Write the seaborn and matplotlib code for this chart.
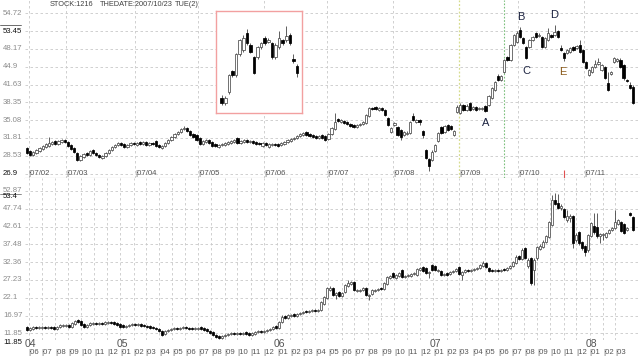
import numpy as np
import pandas as pd
import matplotlib
matplotlib.use("Agg")
import matplotlib.pyplot as plt
import matplotlib.transforms as mtransforms
import seaborn as sns

# ---------------- data ----------------
header_texts = ["STOCK:1216", "THEDATE:2007/10/23", "TUE(2)"]

# daily panel (2007), month labels and trading-day index where each month starts
day_month_labels = ["07/02", "07/03", "07/04", "07/05", "07/06",
                    "07/07", "07/08", "07/09", "07/10", "07/11"]
day_month_start = [1, 13, 35, 55, 76, 96, 117, 138, 157, 178]
day_grid_values = [54.72, 51.45, 48.17, 44.90, 41.63, 38.35, 35.08, 31.81, 28.53, 25.26]
day_grid_labels = ["54.72", "53.45", "48.17", "44.9", "41.63", "38.35", "35.08",
                   "31.81", "28.53", "26.9"]

day_open = [29.97, 29.42, 28.69, 29.05, 29.42, 29.79, 30.16, 30.34, 30.71, 31.26,
            30.71, 31.07, 31.44, 31.07, 30.52, 29.97, 29.05, 27.77, 28.32, 29.05,
            28.69, 29.60, 29.05, 28.69, 28.14, 28.50, 29.05, 29.60, 30.16, 30.52,
            30.89, 30.71, 30.16, 30.52, 30.89, 30.52, 31.07, 30.71, 31.07, 30.52,
            30.89, 31.26, 30.52, 29.97, 30.34, 30.89, 31.44, 31.99, 32.54, 32.91,
            33.46, 33.65, 33.10, 32.54, 32.36, 31.81, 30.71, 31.07, 31.44, 31.07,
            30.71, 30.16, 30.52, 30.52, 30.71, 30.89, 31.07, 31.81, 30.89, 31.07,
            31.44, 31.07, 31.26, 31.07, 30.89, 30.34, 30.89, 30.16, 30.52, 30.71,
            30.71, 30.52, 30.71, 31.07, 31.26, 31.63, 31.81, 32.18, 32.36, 32.91,
            32.54, 32.36, 32.18, 31.81, 32.36, 32.18, 31.63, 32.54, 33.46, 35.30,
            34.75, 34.93, 34.75, 34.38, 34.20, 33.83, 34.20, 34.38, 34.56, 35.85,
            37.32, 37.50, 36.95, 37.32, 36.95, 35.48, 32.91, 34.20, 33.83, 33.28,
            32.36, 32.54, 32.73, 35.85, 34.75, 35.12, 33.10, 29.60, 27.95, 27.77,
            29.42, 31.26, 33.83, 32.91, 34.20, 34.01, 32.36, 36.59, 36.40, 37.87,
            36.95, 38.24, 37.14, 37.50, 37.14, 37.14, 37.69, 37.87, 39.16, 40.63,
            43.20, 42.46, 43.93, 46.69, 46.14, 48.89, 49.44, 51.65, 50.18, 48.53,
            48.53, 49.81, 51.10, 50.55, 50.36, 48.53, 49.81, 50.73, 50.73, 51.47,
            48.34, 47.42, 47.42, 47.61, 48.53, 48.34, 48.89, 47.97, 45.77, 43.38,
            43.93, 44.85, 45.40, 44.30, 44.85, 41.91, 43.57, 45.77, 45.95, 46.14,
            45.22, 42.46, 41.54, 41.18]
day_close = [29.05, 28.69, 29.24, 29.60, 29.97, 30.34, 30.71, 30.89, 31.07, 30.71,
             31.26, 31.44, 31.07, 30.34, 29.79, 29.24, 27.77, 28.50, 28.87, 28.69,
             29.42, 29.05, 28.69, 28.32, 28.50, 29.05, 29.60, 30.16, 30.52, 30.89,
             30.52, 30.16, 30.52, 30.89, 30.71, 30.89, 30.71, 31.07, 30.52, 30.89,
             30.71, 30.34, 30.16, 30.34, 30.89, 31.44, 31.99, 32.54, 32.91, 33.46,
             33.65, 33.10, 32.36, 31.99, 31.44, 30.71, 31.26, 31.44, 30.89, 30.34,
             30.34, 30.52, 30.71, 30.89, 31.07, 31.26, 31.44, 30.89, 31.26, 31.44,
             31.07, 31.26, 30.89, 30.71, 30.71, 30.89, 30.52, 30.71, 30.71, 30.52,
             30.34, 30.89, 31.07, 31.44, 31.63, 31.81, 32.18, 32.54, 32.73, 32.36,
             32.18, 31.99, 31.81, 32.18, 31.81, 31.44, 32.54, 33.65, 34.75, 34.93,
             35.12, 34.56, 34.38, 34.01, 33.83, 34.20, 34.38, 34.75, 36.03, 37.32,
             37.14, 37.14, 37.32, 36.95, 36.03, 34.20, 33.65, 34.56, 32.36, 31.99,
             32.91, 32.73, 34.75, 35.12, 35.12, 34.75, 32.36, 28.14, 26.67, 29.24,
             30.52, 32.73, 32.73, 34.01, 33.28, 33.46, 33.10, 37.50, 37.87, 36.95,
             37.69, 36.95, 37.50, 36.95, 37.32, 37.32, 36.77, 39.52, 40.99, 42.10,
             42.46, 43.20, 46.14, 46.14, 48.89, 50.73, 51.10, 50.36, 49.26, 46.51,
             49.81, 50.36, 50.36, 50.73, 48.53, 50.18, 51.10, 50.36, 51.28, 50.36,
             47.97, 46.51, 47.97, 48.34, 47.97, 48.71, 47.61, 45.77, 44.67, 44.30,
             44.85, 45.40, 45.77, 45.22, 42.83, 40.63, 43.93, 46.51, 46.32, 44.85,
             42.83, 42.28, 40.99, 38.24]
day_high = [30.16, 29.60, 29.42, 29.79, 30.16, 30.52, 30.89, 31.99, 31.26, 31.44,
            31.44, 31.63, 31.63, 31.26, 30.71, 30.16, 29.24, 28.69, 29.05, 29.24,
            29.60, 29.79, 29.24, 28.87, 28.69, 29.24, 29.79, 30.34, 30.71, 31.07,
            31.07, 30.89, 30.71, 31.07, 31.07, 31.07, 31.26, 31.26, 31.26, 31.07,
            31.07, 31.44, 30.71, 30.52, 31.07, 31.63, 32.18, 32.73, 33.10, 33.65,
            34.01, 33.83, 33.28, 32.73, 32.54, 31.99, 31.44, 31.63, 31.63, 31.26,
            30.89, 30.71, 30.89, 31.07, 31.26, 31.44, 31.63, 31.99, 31.44, 31.63,
            31.63, 31.44, 31.44, 31.26, 31.07, 31.07, 31.07, 30.89, 30.89, 30.89,
            30.89, 31.07, 31.26, 31.63, 31.81, 31.99, 32.36, 32.73, 32.91, 33.10,
            32.73, 32.54, 32.36, 32.36, 32.54, 32.36, 32.73, 33.83, 36.40, 35.48,
            35.30, 35.12, 34.93, 34.56, 34.38, 34.38, 34.56, 34.93, 36.22, 37.50,
            37.50, 37.69, 37.50, 37.50, 37.14, 35.67, 33.83, 34.75, 34.01, 33.46,
            33.10, 33.10, 34.93, 36.40, 35.30, 35.30, 33.28, 29.79, 28.14, 29.60,
            30.71, 32.91, 34.01, 34.20, 34.38, 34.20, 33.28, 37.87, 38.24, 38.05,
            38.05, 38.42, 37.69, 37.69, 37.50, 37.50, 37.87, 39.71, 41.18, 42.28,
            43.57, 43.38, 46.32, 46.87, 49.08, 50.91, 51.47, 52.20, 50.36, 48.71,
            49.99, 50.55, 51.28, 51.10, 50.55, 50.36, 52.02, 50.91, 52.57, 51.65,
            48.89, 47.61, 48.16, 48.53, 48.71, 48.89, 49.81, 48.16, 45.95, 44.49,
            45.04, 46.14, 46.51, 45.40, 45.04, 43.93, 44.12, 46.69, 46.51, 46.51,
            45.40, 42.65, 42.10, 41.54]
day_low = [28.87, 28.50, 28.50, 28.87, 29.24, 29.60, 29.97, 30.16, 30.52, 30.52,
           30.52, 30.89, 30.89, 30.16, 29.60, 29.05, 27.59, 27.59, 28.14, 28.50,
           28.50, 28.87, 28.50, 28.14, 27.95, 28.32, 28.87, 29.42, 29.97, 30.34,
           30.34, 29.97, 29.97, 30.34, 30.52, 30.34, 30.52, 30.52, 30.34, 30.34,
           30.52, 30.16, 29.97, 29.79, 30.16, 30.71, 31.26, 31.81, 32.36, 32.73,
           33.28, 32.91, 32.18, 31.81, 31.26, 30.52, 30.52, 30.89, 30.71, 30.16,
           30.16, 29.97, 30.34, 30.34, 30.52, 30.71, 30.89, 30.71, 30.71, 30.89,
           30.89, 30.89, 30.71, 30.52, 30.52, 30.16, 30.34, 29.97, 30.34, 30.34,
           30.16, 30.34, 30.52, 30.89, 31.07, 31.44, 31.63, 31.99, 32.18, 32.18,
           31.99, 31.81, 31.63, 31.63, 31.63, 31.26, 31.44, 32.36, 33.28, 34.75,
           34.56, 34.38, 34.20, 33.83, 33.65, 33.65, 34.01, 34.20, 34.38, 35.67,
           36.95, 36.95, 36.77, 36.77, 35.85, 34.01, 32.73, 34.01, 32.18, 31.44,
           32.18, 32.36, 32.54, 34.93, 34.56, 34.20, 31.81, 27.95, 25.75, 27.59,
           29.24, 31.07, 32.54, 32.73, 33.10, 33.28, 32.18, 36.40, 36.22, 36.77,
           36.77, 36.77, 36.95, 36.77, 36.95, 36.95, 36.59, 37.69, 38.97, 40.44,
           42.28, 42.28, 43.75, 45.95, 45.95, 48.71, 49.26, 50.18, 49.08, 46.32,
           48.34, 49.63, 50.18, 50.36, 48.34, 48.34, 49.63, 50.18, 50.55, 50.18,
           47.79, 45.95, 47.24, 47.42, 47.79, 48.16, 47.42, 45.59, 44.49, 43.20,
           43.75, 44.67, 45.22, 44.12, 42.65, 40.44, 43.38, 45.59, 45.77, 44.67,
           42.46, 42.10, 40.81, 38.05]

# annotations on the daily panel: (label, trading-day index, price)
wave_labels = ["A", "B", "C", "D", "E"]
wave_index = [146.2, 157.4, 159.2, 167.8, 170.7]
wave_price = [34.56, 54.04, 44.12, 54.40, 43.93]
cursor_day = 171
marker_day = 152
inset_first, inset_last = 150, 172

# weekly panel (2004/06 - 2008/03)
week_first_date = "2004-05-28"
week_grid_values = [52.87, 47.74, 42.61, 37.48, 32.36, 27.23, 22.10, 16.97, 11.85]
week_grid_labels = ["52.87", "47.74", "42.61", "37.48", "32.36", "27.23", "22.1",
                    "16.97", "11.85"]
week_open = [13.67, 12.80, 13.09, 13.67, 13.38, 13.38, 13.67, 13.38, 13.67, 13.67,
             13.09, 13.67, 13.96, 13.96, 14.24, 13.67, 14.53, 15.69, 15.40, 14.53,
             13.67, 14.24, 14.53, 14.82, 14.53, 14.82, 14.53, 14.82, 15.11, 15.11,
             14.82, 14.53, 14.24, 13.67, 13.96, 14.24, 14.53, 14.24, 14.53, 14.24,
             13.96, 13.96, 13.67, 13.38, 13.09, 12.51, 11.65, 12.51, 12.80, 13.09,
             13.38, 13.09, 13.38, 13.67, 13.38, 13.38, 13.09, 13.09, 13.67, 13.38,
             13.09, 12.51, 12.23, 11.36, 11.07, 10.50, 11.07, 11.36, 11.65, 11.94,
             11.65, 11.94, 11.65, 12.23, 11.94, 11.36, 11.65, 12.23, 12.51, 12.23,
             12.51, 12.80, 13.09, 13.96, 13.38, 15.11, 16.84, 16.26, 16.84, 17.42,
             16.84, 17.42, 17.71, 18.28, 17.99, 18.28, 18.57, 18.28, 18.57, 20.30,
             22.03, 24.33, 24.91, 22.89, 23.76, 22.60, 23.76, 25.49, 26.06, 26.64,
             24.04, 24.04, 24.33, 24.91, 22.60, 23.18, 24.04, 24.33, 24.91, 24.62,
             26.06, 27.79, 29.23, 27.79, 28.37, 30.10, 28.08, 28.37, 28.37, 28.94,
             28.66, 30.10, 30.96, 30.67, 29.23, 31.54, 31.25, 29.81, 29.81, 28.66,
             29.23, 28.94, 29.52, 29.81, 30.96, 28.66, 29.52, 30.10, 29.81, 30.10,
             30.38, 30.67, 31.25, 32.11, 30.67, 30.10, 29.81, 30.10, 29.81, 30.38,
             30.10, 30.67, 31.25, 32.11, 34.13, 33.27, 36.44, 31.25, 33.56, 30.10,
             33.56, 36.15, 36.73, 38.17, 39.61, 43.07, 50.27, 49.40, 47.97, 47.68,
             44.51, 45.08, 45.66, 38.74, 41.05, 38.17, 37.01, 35.86, 39.90, 42.78,
             42.49, 39.90, 40.18, 39.61, 40.76, 41.62, 42.20, 43.35, 43.93, 43.35,
             41.62, 46.52, 45.37]
week_close = [12.80, 13.38, 13.67, 13.38, 13.67, 13.67, 13.38, 13.67, 13.38, 13.09,
              13.67, 14.24, 14.24, 14.24, 13.67, 14.82, 15.40, 15.11, 14.24, 13.67,
              14.24, 14.82, 14.82, 14.53, 14.82, 14.53, 15.11, 15.11, 14.82, 14.53,
              14.24, 13.67, 13.67, 13.96, 14.24, 14.53, 14.24, 14.53, 13.96, 13.96,
              13.67, 13.38, 13.38, 13.09, 12.51, 11.36, 12.51, 12.80, 13.09, 13.38,
              13.09, 13.38, 13.67, 13.38, 13.09, 13.09, 13.38, 13.38, 13.09, 12.80,
              12.51, 11.94, 11.36, 10.78, 10.50, 11.07, 11.36, 11.65, 11.94, 11.65,
              11.94, 11.65, 11.94, 11.65, 11.36, 11.94, 12.23, 12.51, 12.23, 12.51,
              12.80, 13.09, 13.67, 13.38, 15.11, 16.55, 16.26, 17.13, 17.13, 16.84,
              17.42, 17.71, 17.99, 17.99, 18.28, 18.57, 18.28, 18.57, 20.87, 22.31,
              24.91, 24.91, 22.89, 23.47, 22.60, 23.47, 25.77, 26.35, 26.64, 24.33,
              24.33, 24.33, 24.91, 22.89, 22.89, 24.33, 24.33, 24.62, 24.62, 26.35,
              28.08, 28.37, 28.08, 28.66, 29.23, 28.08, 28.37, 28.66, 28.94, 29.23,
              30.38, 30.67, 29.81, 29.23, 29.52, 30.10, 30.10, 30.10, 28.66, 28.94,
              28.66, 29.52, 29.81, 30.38, 28.94, 29.52, 30.10, 29.81, 30.10, 30.38,
              30.67, 31.54, 32.11, 30.96, 29.81, 29.81, 30.10, 29.81, 30.10, 30.10,
              30.67, 31.25, 32.40, 33.84, 33.27, 35.86, 33.56, 32.98, 26.35, 32.98,
              36.73, 37.01, 38.17, 39.90, 43.93, 50.27, 49.12, 47.97, 48.54, 45.37,
              45.66, 45.66, 37.88, 40.18, 37.88, 36.44, 35.29, 40.18, 43.64, 41.05,
              39.90, 40.47, 40.47, 40.76, 41.62, 42.20, 43.93, 44.51, 41.34, 40.76,
              42.20, 45.95, 41.62]
week_high = [13.96, 13.67, 13.96, 13.96, 13.96, 13.96, 13.96, 13.96, 13.96, 13.96,
             13.96, 14.53, 14.53, 14.53, 14.53, 15.11, 15.69, 15.98, 15.69, 14.82,
             14.53, 15.11, 15.11, 15.11, 15.11, 15.11, 15.40, 15.40, 15.40, 15.40,
             15.11, 14.82, 14.53, 14.24, 14.53, 14.82, 14.82, 14.82, 14.82, 14.53,
             14.24, 14.24, 13.96, 13.67, 13.38, 12.80, 12.80, 13.09, 13.38, 13.67,
             13.67, 13.67, 13.96, 13.96, 13.67, 13.67, 13.67, 13.67, 13.96, 13.67,
             13.38, 12.80, 12.51, 11.65, 11.36, 11.36, 11.65, 11.94, 12.23, 12.23,
             12.23, 12.23, 12.23, 12.51, 12.23, 12.23, 12.51, 12.80, 12.80, 12.80,
             13.09, 13.38, 13.96, 14.24, 15.40, 17.13, 17.13, 17.42, 17.42, 17.71,
             17.71, 17.99, 18.28, 18.57, 18.57, 18.86, 18.86, 18.86, 21.16, 22.60,
             25.20, 25.49, 25.20, 23.76, 24.04, 23.76, 26.06, 27.21, 26.93, 26.93,
             24.62, 24.62, 25.20, 25.20, 23.18, 24.62, 24.62, 24.91, 25.20, 26.64,
             28.37, 28.66, 29.52, 28.94, 29.52, 30.38, 28.66, 28.94, 29.23, 29.52,
             30.67, 30.96, 31.25, 30.96, 29.81, 31.83, 31.54, 30.38, 30.10, 29.23,
             29.52, 29.81, 30.10, 30.67, 31.25, 29.81, 30.38, 30.38, 30.38, 30.67,
             30.96, 31.83, 32.69, 32.40, 30.96, 30.38, 30.38, 30.38, 30.38, 30.67,
             30.96, 31.54, 32.69, 34.42, 34.42, 36.44, 36.73, 33.56, 33.84, 33.56,
             37.01, 37.59, 38.74, 40.18, 44.22, 51.71, 52.29, 52.00, 49.12, 47.97,
             47.39, 46.23, 45.95, 40.76, 41.34, 38.46, 37.30, 40.47, 43.93, 46.52,
             46.52, 40.76, 40.76, 41.05, 41.91, 42.49, 47.39, 44.80, 44.22, 43.64,
             42.49, 46.81, 45.66]
week_low = [12.51, 12.51, 12.80, 13.09, 13.09, 13.09, 13.09, 13.09, 13.09, 12.80,
            12.80, 13.38, 13.67, 13.67, 13.38, 13.38, 14.24, 14.82, 13.96, 13.38,
            13.38, 13.96, 14.24, 14.24, 14.24, 14.24, 14.24, 14.53, 14.53, 14.24,
            13.96, 13.38, 13.38, 13.38, 13.67, 13.96, 13.96, 13.96, 13.67, 13.67,
            13.38, 13.09, 13.09, 12.80, 12.23, 11.07, 11.36, 12.23, 12.51, 12.80,
            12.80, 12.80, 13.09, 13.09, 12.80, 12.80, 12.80, 12.80, 12.80, 12.51,
            12.23, 11.65, 11.07, 10.50, 10.21, 10.21, 10.78, 11.07, 11.36, 11.36,
            11.36, 11.36, 11.36, 11.36, 11.07, 11.07, 11.36, 11.94, 11.94, 11.94,
            12.23, 12.51, 12.80, 13.09, 13.09, 14.82, 15.98, 15.98, 16.55, 16.55,
            16.55, 17.13, 17.42, 17.71, 17.71, 17.99, 17.99, 17.99, 18.28, 20.01,
            21.74, 24.04, 22.60, 21.74, 22.31, 22.31, 23.47, 25.20, 25.77, 24.04,
            23.76, 23.76, 24.04, 22.60, 21.45, 22.89, 23.76, 24.04, 24.33, 24.33,
            25.77, 27.50, 27.79, 27.50, 28.08, 27.79, 27.79, 28.08, 28.08, 28.66,
            28.37, 29.81, 29.52, 28.94, 27.79, 29.81, 29.81, 29.52, 28.37, 28.37,
            28.37, 28.66, 29.23, 29.52, 28.66, 27.21, 29.23, 29.52, 29.52, 29.81,
            30.10, 30.38, 30.96, 30.67, 29.52, 29.52, 29.52, 29.52, 29.52, 29.81,
            29.81, 30.38, 30.96, 31.83, 32.98, 32.98, 33.27, 30.67, 25.77, 25.77,
            32.98, 35.86, 36.44, 37.88, 39.32, 42.78, 48.83, 47.68, 47.39, 45.08,
            43.93, 43.93, 36.44, 38.17, 37.30, 35.86, 34.13, 35.29, 39.61, 40.47,
            39.32, 37.88, 38.74, 39.32, 40.47, 41.34, 41.91, 43.07, 41.05, 40.47,
            41.34, 45.66, 41.34]
week_cursor_date = "2007-10-23"

# ---------------- style ----------------
sns.set_theme(style="white")
plt.rcParams["font.family"] = ["Liberation Sans", "DejaVu Sans"]
plt.rcParams["axes.linewidth"] = 0.8

W, H = 640, 356
fig = plt.figure(figsize=(W / 100, H / 100), dpi=100)
fig.patch.set_facecolor("white")


def fx(px):
    return px / W


def fy(py):
    return 1 - py / H


GRID = dict(color="#c9c9c9", lw=0.6, ls=(0, (3, 3)), zorder=0)
LBL = "#8c8c8c"
FS = 5.6


def draw_candles(ax, o, h, l, c, width, lw):
    df = pd.DataFrame({"o": o, "h": h, "l": l, "c": c})
    df["x"] = np.arange(len(df))
    up = df["c"] >= df["o"]
    ax.vlines(df["x"], df["l"], df["h"], colors="#333333", lw=lw, zorder=2)
    ax.bar(df["x"][up], (df["c"] - df["o"])[up], bottom=df["o"][up], width=width,
           facecolor="white", edgecolor="#4a4a4a", lw=lw, zorder=3)
    ax.bar(df["x"][~up], (df["o"] - df["c"])[~up], bottom=df["c"][~up], width=width,
           facecolor="black", edgecolor="black", lw=lw, zorder=3)


def clean(ax):
    ax.set_xticks([])
    ax.set_yticks([])
    for s in ax.spines.values():
        s.set_visible(False)
    ax.set_facecolor("white")


# ---------------- daily panel ----------------
ax1 = fig.add_axes([fx(25), fy(178), fx(615), 178 / H])
clean(ax1)
ax1.set_xlim(-0.64, -0.64 + 615 / 3.14)
ax1.set_ylim(24.46, 57.16)
for v in day_grid_values:
    ax1.axhline(v, **GRID)
for i in day_month_start:
    if i == 138:
        ax1.axvline(i - 0.5, color="#d6dc8c", lw=0.9, ls=(0, (1.5, 1.5)), zorder=0)
    else:
        ax1.axvline(i - 0.5, **GRID)
ax1.axvline(marker_day, color="#7cbf7c", lw=0.8, ls=(0, (1.5, 1.5)), zorder=0)
draw_candles(ax1, day_open, day_high, day_low, day_close, 0.72, 0.55)
ax1.spines["bottom"].set_visible(True)
ax1.spines["bottom"].set_color("#9a9a9a")

tx1 = mtransforms.blended_transform_factory(ax1.transData, ax1.transAxes)
for i, lab in zip(day_month_start, day_month_labels):
    ax1.text(i - 0.5, 0.028, "|" + lab, transform=tx1, fontsize=FS, color="#555555",
             ha="left", va="center")
ax1.vlines(cursor_day, 0, 0.045, transform=tx1, color="#e05050", lw=0.8)

ty1 = mtransforms.blended_transform_factory(fig.transFigure, ax1.transData)
for v, lab in zip(day_grid_values, day_grid_labels):
    col = "#111111" if lab in ("53.45", "26.9") else LBL
    ax1.text(fx(3), v, lab, transform=ty1, fontsize=FS, color=col, ha="left", va="center")
fig.add_artist(plt.Line2D([0, fx(21)], [fy(25), fy(25)], color="#555555", lw=0.6))

for lab, xi, yp in zip(wave_labels, wave_index, wave_price):
    ax1.text(xi, yp, lab, fontsize=8, color="#8a5a1a" if lab == "E" else "#1c2340",
             ha="center", va="center", zorder=5)

hx = [50, 100, 175]
for x0, t in zip(hx, header_texts):
    fig.text(fx(x0), fy(5), t, fontsize=5.3, color="#404040", ha="left", va="center")

# inset (magnified view)
axi = fig.add_axes([fx(216), fy(113), fx(86), 102 / H])
clean(axi)
sl = slice(inset_first, inset_last)
draw_candles(axi, day_open[sl], day_high[sl], day_low[sl], day_close[sl], 0.72, 0.55)
axi.set_xlim(-1.6, inset_last - inset_first - 1 + 1.4)
axi.set_ylim(41.2, 54.6)
for s in axi.spines.values():
    s.set_visible(True)
    s.set_color("#f2a0a0")
    s.set_linewidth(1.0)

# ---------------- weekly panel ----------------
ax2 = fig.add_axes([fx(25), fy(340), fx(615), 162 / H])
clean(ax2)
ax2.set_xlim(-0.67, -0.67 + 615 / 3.0)
ax2.set_ylim(9.92, 56.61)
weeks = pd.date_range(week_first_date, periods=len(week_open), freq="7D")
month_starts = pd.date_range("2004-06-01", "2008-03-01", freq="MS")
mpos = ((month_starts - weeks[0]).days / 7.0).to_numpy()
for v in week_grid_values:
    ax2.axhline(v, **GRID)
for p in mpos:
    ax2.axvline(p, **GRID)
draw_candles(ax2, week_open, week_high, week_low, week_close, 0.72, 0.55)

ty2 = mtransforms.blended_transform_factory(fig.transFigure, ax2.transData)
for v, lab in zip(week_grid_values, week_grid_labels):
    ax2.text(fx(3), v, lab, transform=ty2, fontsize=FS, color=LBL, ha="left", va="center")
fig.text(fx(3), fy(197), "53.4", fontsize=FS, color="#111111", ha="left", va="center")
fig.text(fx(3), fy(343), "11.85", fontsize=FS, color="#111111", ha="left", va="center")
fig.add_artist(plt.Line2D([0, fx(21)], [fy(194), fy(194)], color="#777777", lw=0.6))

tx2 = mtransforms.blended_transform_factory(ax2.transData, fig.transFigure)
for k, (p, d) in enumerate(zip(mpos, month_starts)):
    ax2.text(p, fy(352), "|" + d.strftime("%m"), transform=tx2, fontsize=FS,
             color="#555555", ha="left", va="center")
    if k == 0 or d.month == 1:
        ax2.text(p - 1.2, fy(344), d.strftime("%y"), transform=tx2, fontsize=7.5,
                 color="#555555", ha="left", va="center")
cur_k = (pd.Timestamp(week_cursor_date) - weeks[0]).days / 7.0
ax2.vlines(cur_k + 0.5, fy(356), fy(346), transform=tx2, color="#e05050", lw=0.8)

fig.savefig("out.png", dpi=100, facecolor="white")
